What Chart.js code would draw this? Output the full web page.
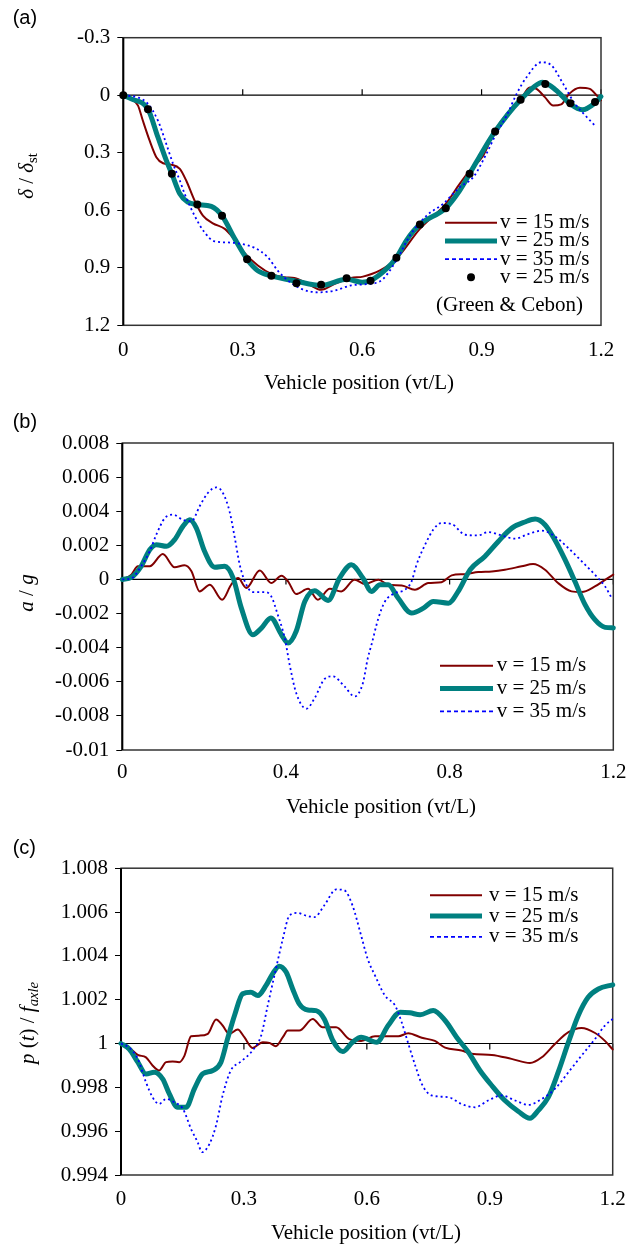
<!DOCTYPE html>
<html>
<head>
<meta charset="utf-8">
<script src="https://cdn.jsdelivr.net/npm/chart.js@4.4.0/dist/chart.umd.min.js"></script>
<style>
  html, body { margin: 0; padding: 0; background: #fff; }
  #page { position: relative; width: 627px; height: 1247px; overflow: hidden;
          font-family: "Liberation Serif", "Times New Roman", serif; color: #000; }
  #page canvas { position: absolute; left: 0; top: 0; }
  .lbl { position: absolute; font-size: 21px; line-height: 21px; white-space: nowrap;
         transform: translate(-50%, -50%); }
  .rot { transform: translate(-50%, -50%) rotate(-90deg); }
  .tag { position: absolute; font-family: "Liberation Sans", Arial, sans-serif; font-size: 20px;
         line-height: 20px; transform: translate(0, -50%); }
  .lbl sub { font-size: 70%; vertical-align: baseline; position: relative; top: 0.3em; }
</style>
</head>
<body>
<div id="page">
  <canvas id="cA" width="627" height="1247"></canvas>
  <canvas id="cB" width="627" height="1247"></canvas>
  <canvas id="cC" width="627" height="1247"></canvas>

  <div class="tag" style="left:12.7px;top:16.5px">(a)</div>
  <div class="tag" style="left:12.7px;top:421px">(b)</div>
  <div class="tag" style="left:12.7px;top:847px">(c)</div>

  <div class="lbl rot" style="left:27px;top:176px"><i>δ</i> / <i>δ</i><sub>st</sub></div>
  <div class="lbl rot" style="left:25.5px;top:592.5px"><i>a</i> / <i>g</i></div>
  <div class="lbl rot" style="left:27.5px;top:1022.5px"><i>p</i> (<i>t</i>) / <i>f</i><sub><i>axle</i></sub></div>

  <div class="lbl" style="left:359px;top:382px">Vehicle position (vt/L)</div>
  <div class="lbl" style="left:381px;top:806px">Vehicle position (vt/L)</div>
  <div class="lbl" style="left:366px;top:1232px">Vehicle position (vt/L)</div>
</div>
<script>
// ---- (a) deflection, delta / delta_st ----
var xTicksA = [0, 0.3, 0.6, 0.9, 1.2];
var yTicksA = [-0.3, 0, 0.3, 0.6, 0.9, 1.2];

var a15x = [0, 0.02, 0.037, 0.049, 0.066, 0.083, 0.1, 0.12, 0.142, 0.158, 0.179, 0.2, 0.225, 0.255, 0.275, 0.305, 0.338, 0.372, 0.405, 0.43, 0.464, 0.497, 0.531, 0.572, 0.602, 0.645, 0.686, 0.745, 0.81, 0.845, 0.87, 0.904, 0.934, 0.967, 0.998, 1.021, 1.038, 1.059, 1.08, 1.1, 1.12, 1.147, 1.172, 1.189, 1.2];
var a15y = [0, 0.02, 0.054, 0.132, 0.236, 0.323, 0.355, 0.362, 0.384, 0.445, 0.549, 0.628, 0.668, 0.697, 0.741, 0.824, 0.888, 0.932, 0.949, 0.953, 0.984, 1.015, 0.984, 0.953, 0.946, 0.914, 0.853, 0.697, 0.567, 0.462, 0.393, 0.315, 0.184, 0.088, 0.024, -0.04, -0.033, 0.01, 0.054, 0.048, -0.007, -0.039, -0.033, 0.001, 0.026];

var a25x = [0, 0.02, 0.062, 0.087, 0.108, 0.122, 0.142, 0.162, 0.186, 0.221, 0.248, 0.28, 0.311, 0.338, 0.372, 0.435, 0.497, 0.561, 0.6, 0.621, 0.661, 0.686, 0.711, 0.745, 0.81, 0.845, 0.87, 0.904, 0.934, 0.967, 0.998, 1.029, 1.053, 1.088, 1.123, 1.153, 1.185, 1.2];
var a25y = [0, 0.019, 0.073, 0.219, 0.34, 0.41, 0.514, 0.558, 0.57, 0.58, 0.629, 0.749, 0.855, 0.915, 0.942, 0.97, 0.992, 0.96, 0.975, 0.967, 0.906, 0.848, 0.758, 0.674, 0.589, 0.497, 0.41, 0.288, 0.189, 0.097, 0.024, -0.039, -0.068, -0.025, 0.046, 0.076, 0.04, 0.007];

var a35x = [0, 0.037, 0.062, 0.087, 0.108, 0.125, 0.142, 0.154, 0.179, 0.204, 0.229, 0.263, 0.296, 0.33, 0.363, 0.388, 0.414, 0.447, 0.489, 0.531, 0.572, 0.602, 0.645, 0.686, 0.72, 0.762, 0.803, 0.845, 0.879, 0.912, 0.937, 0.963, 0.988, 1.013, 1.05, 1.076, 1.105, 1.134, 1.163, 1.187];
var a35y = [0, 0.012, 0.045, 0.132, 0.254, 0.358, 0.445, 0.514, 0.628, 0.715, 0.762, 0.768, 0.775, 0.796, 0.845, 0.915, 0.967, 1.01, 1.028, 1.019, 0.992, 0.987, 0.97, 0.862, 0.732, 0.628, 0.567, 0.48, 0.428, 0.306, 0.2, 0.106, -0.007, -0.094, -0.172, -0.155, -0.059, 0.043, 0.111, 0.163];

// Green & Cebon, 25 m/s
var gcX = [0, 0.062, 0.122, 0.186, 0.248, 0.311, 0.372, 0.435, 0.497, 0.561, 0.621, 0.686, 0.745, 0.81, 0.87, 0.934, 0.998, 1.06, 1.123, 1.185];
var gcY = [0, 0.073, 0.41, 0.57, 0.629, 0.855, 0.942, 0.981, 0.989, 0.955, 0.967, 0.848, 0.674, 0.589, 0.41, 0.189, 0.024, -0.059, 0.042, 0.036];

// ---- (b) acceleration, a / g ----
var xTicksB = [0, 0.4, 0.8, 1.2];
var yTicksB = [-0.01, -0.008, -0.006, -0.004, -0.002, 0, 0.002, 0.004, 0.006, 0.008];

var b15x = [0, 0.022, 0.038, 0.067, 0.099, 0.128, 0.152, 0.169, 0.189, 0.214, 0.244, 0.266, 0.283, 0.303, 0.336, 0.364, 0.389, 0.405, 0.425, 0.454, 0.478, 0.507, 0.535, 0.568, 0.593, 0.626, 0.65, 0.683, 0.715, 0.748, 0.78, 0.805, 0.838, 0.87, 0.903, 0.935, 0.976, 1.004, 1.033, 1.065, 1.098, 1.123, 1.155, 1.18, 1.2];
var b15y = [0, 0.00028, 0.00077, 0.00077, 0.00149, 0.00071, 0.00083, 0.00048, -0.0007, -0.00031, -0.00119, -0.00031, 0.00008, -0.0005, 0.00053, -0.00021, 0.00022, -0.00011, -0.00086, -0.00055, -0.00119, -0.00055, -0.0007, -0.00002, -0.00027, -0.00002, -0.00031, -0.00035, -0.0006, -0.00021, -0.00016, 0.00024, 0.00031, 0.00043, 0.00047, 0.00057, 0.00077, 0.0009, 0.00057, -0.00021, -0.0007, -0.00074, -0.00041, -0.00002, 0.00028];

var b25x = [0, 0.022, 0.046, 0.067, 0.083, 0.108, 0.128, 0.148, 0.165, 0.181, 0.201, 0.226, 0.25, 0.271, 0.291, 0.319, 0.34, 0.363, 0.389, 0.405, 0.425, 0.446, 0.47, 0.503, 0.531, 0.56, 0.588, 0.609, 0.63, 0.65, 0.674, 0.707, 0.736, 0.76, 0.797, 0.821, 0.85, 0.886, 0.919, 0.952, 0.984, 1.009, 1.033, 1.057, 1.082, 1.106, 1.131, 1.155, 1.18, 1.2];
var b25y = [0, 0.00012, 0.00077, 0.00174, 0.00204, 0.00194, 0.00233, 0.00311, 0.0035, 0.00301, 0.00165, 0.00071, 0.00077, 0.00008, -0.00168, -0.00324, -0.00285, -0.00226, -0.00324, -0.00373, -0.00304, -0.00129, -0.00066, -0.00123, 0.00008, 0.00086, 0.00008, -0.0007, -0.00031, -0.00031, -0.00109, -0.00197, -0.00168, -0.00129, -0.00139, -0.0007, 0.00057, 0.00135, 0.00223, 0.00301, 0.00337, 0.00354, 0.00321, 0.00233, 0.00116, -0.00011, -0.00148, -0.00236, -0.00281, -0.00284];

var b35x = [0, 0.022, 0.046, 0.067, 0.083, 0.104, 0.124, 0.148, 0.169, 0.189, 0.209, 0.23, 0.246, 0.262, 0.275, 0.287, 0.303, 0.319, 0.348, 0.364, 0.38, 0.397, 0.409, 0.425, 0.45, 0.47, 0.495, 0.515, 0.543, 0.568, 0.588, 0.6, 0.609, 0.626, 0.642, 0.666, 0.691, 0.707, 0.719, 0.74, 0.76, 0.78, 0.805, 0.838, 0.87, 0.894, 0.927, 0.96, 0.992, 1.025, 1.057, 1.09, 1.123, 1.155, 1.18, 1.196];
var b35y = [0, 0.00006, 0.00077, 0.00165, 0.00262, 0.0036, 0.0038, 0.0035, 0.00341, 0.00429, 0.00507, 0.0054, 0.00507, 0.004, 0.00243, 0.00086, -0.00031, -0.00074, -0.00074, -0.00099, -0.00207, -0.00344, -0.005, -0.00666, -0.00758, -0.00696, -0.00582, -0.00568, -0.00627, -0.00686, -0.00608, -0.00461, -0.00383, -0.00226, -0.00129, -0.0008, -0.0006, -0.00011, 0.00086, 0.00204, 0.00292, 0.00331, 0.00325, 0.00262, 0.00258, 0.00278, 0.00258, 0.00239, 0.00266, 0.00286, 0.00253, 0.00184, 0.00106, 0.00028, -0.00041, -0.00109];

// ---- (c) tyre force, p(t) / f_axle ----
var xTicksC = [0, 0.3, 0.6, 0.9, 1.2];
var yTicksC = [0.994, 0.996, 0.998, 1, 1.002, 1.004, 1.006, 1.008];

var c15x = [0, 0.02, 0.041, 0.061, 0.077, 0.093, 0.11, 0.126, 0.142, 0.155, 0.171, 0.191, 0.212, 0.232, 0.248, 0.264, 0.285, 0.301, 0.321, 0.346, 0.362, 0.378, 0.395, 0.407, 0.435, 0.468, 0.492, 0.525, 0.557, 0.586, 0.62, 0.677, 0.701, 0.734, 0.766, 0.791, 0.831, 0.856, 0.905, 0.953, 0.998, 1.027, 1.059, 1.092, 1.124, 1.157, 1.181, 1.2];
var c15y = [1, 0.99981, 0.99948, 0.99937, 0.999, 0.99877, 0.99915, 0.99918, 0.99915, 0.99945, 1.00033, 1.00036, 1.00044, 1.0011, 1.00082, 1.00044, 1.00064, 1.00029, 0.9998, 1.00006, 1.00003, 0.99988, 1.00029, 1.00059, 1.00059, 1.00112, 1.00074, 1.00074, 1.0002, 1.00012, 1.00033, 1.00033, 1.00047, 1.00026, 1.00012, 0.99981, 0.99968, 0.99953, 0.99948, 0.9993, 0.99911, 0.99937, 0.99998, 1.00052, 1.00071, 1.00048, 1.00012, 0.99973];

var c25x = [0, 0.02, 0.041, 0.061, 0.081, 0.102, 0.118, 0.138, 0.159, 0.179, 0.199, 0.224, 0.244, 0.26, 0.277, 0.297, 0.317, 0.334, 0.354, 0.37, 0.386, 0.403, 0.419, 0.435, 0.456, 0.476, 0.496, 0.517, 0.541, 0.565, 0.586, 0.624, 0.652, 0.681, 0.705, 0.73, 0.762, 0.791, 0.819, 0.848, 0.876, 0.905, 0.937, 0.97, 0.998, 1.018, 1.043, 1.067, 1.092, 1.116, 1.14, 1.165, 1.2];
var c25y = [1, 0.99975, 0.99915, 0.99861, 0.99869, 0.99838, 0.9977, 0.99709, 0.99709, 0.99793, 0.99861, 0.99877, 0.99915, 1.00021, 1.00128, 1.00227, 1.00234, 1.00219, 1.00265, 1.00318, 1.00353, 1.00326, 1.00249, 1.00181, 1.00153, 1.0015, 1.00112, 1.00014, 0.99963, 1.00006, 1.00029, 1.00006, 1.00082, 1.00143, 1.0014, 1.00131, 1.00151, 1.00105, 1.00029, 0.9996, 0.99877, 0.99808, 0.9974, 0.9969, 0.99659, 0.99694, 0.99755, 0.99869, 1.00006, 1.00128, 1.00211, 1.00249, 1.00268];

var c35x = [0, 0.02, 0.041, 0.061, 0.077, 0.093, 0.11, 0.13, 0.151, 0.171, 0.187, 0.198, 0.216, 0.232, 0.248, 0.268, 0.293, 0.321, 0.342, 0.358, 0.378, 0.395, 0.411, 0.431, 0.451, 0.472, 0.496, 0.525, 0.545, 0.565, 0.586, 0.602, 0.62, 0.644, 0.669, 0.685, 0.701, 0.718, 0.734, 0.758, 0.799, 0.831, 0.864, 0.896, 0.929, 0.962, 0.994, 1.027, 1.059, 1.092, 1.124, 1.157, 1.181, 1.2];
var c35y = [1, 0.99981, 0.9993, 0.99823, 0.99755, 0.99724, 0.99747, 0.99732, 0.99702, 0.9961, 0.9955, 0.99504, 0.99542, 0.99626, 0.99763, 0.99877, 0.99918, 0.99968, 1.00036, 1.00173, 1.0034, 1.00478, 1.00584, 1.00596, 1.00584, 1.00577, 1.0063, 1.00703, 1.00699, 1.0063, 1.00493, 1.00386, 1.0031, 1.00219, 1.00173, 1.00097, 1, 0.999, 0.99816, 0.99763, 0.99755, 0.99724, 0.99709, 0.9974, 0.99763, 0.9974, 0.9972, 0.99747, 0.99793, 0.99869, 0.99945, 1.00021, 1.00082, 1.00112];

// y axis box is wide so long tick labels like "-0.002" are not clipped
var W = 627, H = 1247, YW = 110, XH = 50;
var RED = '#800000', TEAL = '#008080', BLUE = '#0000ff';
var tickFont = { family: '"Liberation Serif", "Times New Roman", serif', size: 21 };

function pts(xs, ys) { return xs.map(function (x, i) { return { x: x, y: ys[i] }; }); }

function line(label, xs, ys, color, width, dash, order) {
  return {
    label: label, data: pts(xs, ys), showLine: true,
    borderColor: color, backgroundColor: color, borderWidth: width,
    borderDash: dash || [], borderCapStyle: dash ? 'butt' : 'round', borderJoinStyle: 'round',
    pointRadius: 0, cubicInterpolationMode: 'monotone', order: order, clip: 10
  };
}

// plot frame, y = zero line with its small x ticks
function framePlugin(zero, tickLen) {
  return {
    id: 'frame',
    beforeDatasetsDraw: function (chart) {
      var ctx = chart.ctx, a = chart.chartArea, x = chart.scales.x, y = chart.scales.y;
      var y0 = y.getPixelForValue(zero);
      ctx.save();
      ctx.strokeStyle = '#000';
      ctx.lineWidth = 1.2;
      ctx.beginPath();
      ctx.moveTo(a.left, y0); ctx.lineTo(a.right, y0);
      x.ticks.forEach(function (t) {
        var px = x.getPixelForValue(t.value);
        ctx.moveTo(px, y0); ctx.lineTo(px, y0 + tickLen);
      });
      ctx.stroke();
      ctx.strokeStyle = '#333';
      ctx.lineWidth = 1.5;
      ctx.strokeRect(a.left, a.top, a.right - a.left, a.bottom - a.top);
      ctx.strokeStyle = '#000';
      ctx.lineWidth = 2;
      ctx.beginPath(); ctx.moveTo(a.left, a.top); ctx.lineTo(a.left, a.bottom); ctx.stroke();
      ctx.restore();
    }
  };
}

// legend drawn inside the plot area
function keyPlugin(k) {
  return {
    id: 'keyBox',
    afterDatasetsDraw: function (chart) {
      var ctx = chart.ctx;
      ctx.save();
      ctx.font = '21px "Liberation Serif", "Times New Roman", serif';
      ctx.textBaseline = 'middle';
      ctx.textAlign = 'left';
      chart.data.datasets.forEach(function (ds, i) {
        var yy = k.y + i * k.dy;
        if (ds.showLine) {
          ctx.strokeStyle = ds.borderColor;
          ctx.lineWidth = ds.borderWidth;
          ctx.setLineDash(ds.borderDash.length ? [4, 3] : []);
          ctx.beginPath(); ctx.moveTo(k.x, yy); ctx.lineTo(k.x + k.len, yy); ctx.stroke();
          ctx.setLineDash([]);
        } else {
          ctx.fillStyle = '#000';
          ctx.beginPath(); ctx.arc(k.x + k.len / 2, yy, ds.pointRadius, 0, Math.PI * 2); ctx.fill();
        }
        ctx.fillStyle = '#000';
        ctx.fillText(ds.label, k.textX, yy);
      });
      if (k.note) ctx.fillText(k.note, k.noteX, k.noteY);
      ctx.restore();
    }
  };
}

function fixedTicks(arr) {
  return function (s) { s.ticks = arr.map(function (v) { return { value: v }; }); };
}

function panel(id, p) {
  var a = p.area;
  return new Chart(document.getElementById(id), {
    type: 'scatter',
    data: { datasets: p.sets },
    options: {
      responsive: false, animation: false, events: [],
      layout: { padding: { left: a.l - YW, right: W - a.r, top: a.t, bottom: H - a.b - XH } },
      plugins: { legend: { display: false }, tooltip: { enabled: false } },
      scales: {
        x: {
          type: 'linear', min: p.xTicks[0], max: p.xTicks[p.xTicks.length - 1],
          afterBuildTicks: fixedTicks(p.xTicks),
          afterFit: function (s) { s.height = XH; s.paddingLeft = 0; s.paddingRight = 0; },
          grid: { display: false, drawTicks: false }, border: { display: false },
          ticks: { color: '#000', font: tickFont, padding: p.xPad, maxRotation: 0, autoSkip: false,
                   callback: function (v) { return String(+v.toFixed(1)); } }
        },
        y: {
          type: 'linear', min: p.yMin, max: p.yMax, reverse: !!p.reverse,
          afterBuildTicks: fixedTicks(p.yTicks),
          afterFit: function (s) { s.width = YW; s.paddingTop = 0; s.paddingBottom = 0; },
          grid: { display: true, drawOnChartArea: false, drawTicks: true, tickLength: 6, color: '#000', lineWidth: 1 },
          border: { display: false },
          ticks: { color: '#000', font: tickFont, padding: 7, autoSkip: false,
                   callback: function (v) { return String(+v.toFixed(p.yDec)); } }
        }
      }
    },
    plugins: [framePlugin(p.zero, p.zeroTick), keyPlugin(p.key)]
  });
}

document.addEventListener('DOMContentLoaded', function () {
  panel('cA', {
    area: { l: 123.3, r: 601, t: 37.7, b: 325.3 },
    xTicks: xTicksA, yTicks: yTicksA, yMin: -0.3, yMax: 1.2, reverse: true, yDec: 1,
    xPad: 12.8, zero: 0, zeroTick: -6,
    sets: [
      line('v = 15 m/s', a15x, a15y, RED, 2, null, 3),
      line('v = 25 m/s', a25x, a25y, TEAL, 5, null, 2),
      line('v = 35 m/s', a35x, a35y, BLUE, 1.8, [2, 3], 1),
      { label: 'v = 25 m/s', data: pts(gcX, gcY), showLine: false, pointRadius: 4,
        pointBackgroundColor: '#000', pointBorderWidth: 0, borderColor: '#000', order: 0, clip: 10 }
    ],
    key: { x: 445, len: 52, textX: 500, y: 222.7, dy: 18.2, note: '(Green & Cebon)', noteX: 436, noteY: 305 }
  });

  panel('cB', {
    area: { l: 122.3, r: 613.3, t: 443, b: 750 },
    xTicks: xTicksB, yTicks: yTicksB, yMin: -0.01, yMax: 0.008, yDec: 3,
    xPad: 9.9, zero: 0, zeroTick: 5,
    sets: [
      line('v = 15 m/s', b15x, b15y, RED, 2, null, 3),
      line('v = 25 m/s', b25x, b25y, TEAL, 5, null, 2),
      line('v = 35 m/s', b35x, b35y, BLUE, 1.8, [2, 3], 1)
    ],
    key: { x: 440, len: 53, textX: 496.7, y: 665.7, dy: 22.8 }
  });

  panel('cC', {
    area: { l: 121, r: 612.7, t: 868.2, b: 1175 },
    xTicks: xTicksC, yTicks: yTicksC, yMin: 0.994, yMax: 1.008, yDec: 3,
    xPad: 11.4, zero: 1, zeroTick: 6,
    sets: [
      line('v = 15 m/s', c15x, c15y, RED, 2, null, 3),
      line('v = 25 m/s', c25x, c25y, TEAL, 5, null, 2),
      line('v = 35 m/s', c35x, c35y, BLUE, 1.8, [2, 3], 1)
    ],
    key: { x: 430, len: 52, textX: 489, y: 895.3, dy: 20.8 }
  });
});
</script>
</body>
</html>
